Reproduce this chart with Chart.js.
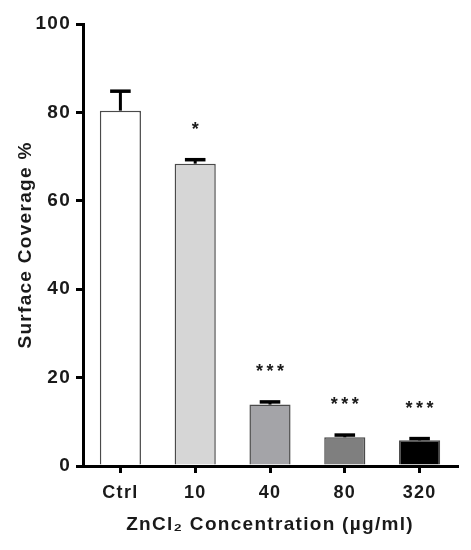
<!DOCTYPE html>
<html>
<head>
<meta charset="utf-8">
<script src="https://cdn.jsdelivr.net/npm/chart.js@4/dist/chart.umd.min.js"></script>
<style>
  html, body { margin: 0; padding: 0; background: #fff; }
  #wrap { width: 471px; height: 550px; position: relative; }
</style>
</head>
<body>
<div id="wrap"><canvas id="grafico"></canvas></div>
<script>
// dados
const categorias = ['Ctrl', '10', '40', '80', '320'];
const medias     = [80.4, 68.4, 13.9, 6.5, 5.8];
const erros      = [4.4, 0.9, 0.6, 0.5, 0.4];
const signif     = ['', '*', '***', '***', '***'];
const yTicks     = [0, 20, 40, 60, 80, 100];

const corBarras  = ['#ffffff', '#d6d6d6', '#a4a4a8', '#7f7f7f', '#000000'];
const FONTE      = '"Liberation Sans", Arial, sans-serif';
const TEXTO      = '#1a1a1a';
const ESPACO     = '1.3px';   // texto do original é um pouco espaçado

// espaçamento entre letras (o canvas perde o estado ao redimensionar)
const espacamento = {
    id: 'espacamento',
    beforeLayout(chart) { chart.ctx.letterSpacing = ESPACO; },
    beforeDraw(chart)   { chart.ctx.letterSpacing = ESPACO; }
};

// barras de erro (só para cima) + asteriscos
const errorBars = {
    id: 'errorBars',
    afterDatasetsDraw(chart) {
        const { ctx, scales: { y } } = chart;
        const meta = chart.getDatasetMeta(0);
        ctx.save();
        meta.data.forEach((bar, i) => {
            const x     = bar.x;
            const yTop  = y.getPixelForValue(medias[i] + erros[i]);
            const yBase = y.getPixelForValue(medias[i]);
            const half  = bar.width / 4;
            ctx.strokeStyle = '#000';
            ctx.lineWidth = 3;
            ctx.beginPath();
            ctx.moveTo(x, yBase);
            ctx.lineTo(x, yTop);
            ctx.stroke();
            ctx.lineWidth = 3.5;
            ctx.beginPath();
            ctx.moveTo(x - half, yTop);
            ctx.lineTo(x + half, yTop);
            ctx.stroke();

            if (signif[i]) {
                ctx.fillStyle = TEXTO;
                ctx.font = 'bold 18px ' + FONTE;
                ctx.letterSpacing = '3.5px';
                ctx.textAlign = 'center';
                ctx.textBaseline = 'alphabetic';
                // o espaçamento final desloca o texto; compensa metade
                ctx.fillText(signif[i], x + 1.75, yTop - 35 + 10.3);
            }
        });
        ctx.restore();
    }
};

new Chart(document.getElementById('grafico'), {
    type: 'bar',
    data: {
        labels: categorias,
        datasets: [{
            data: medias,
            backgroundColor: corBarras,
            borderColor: '#4a4a4a',
            borderWidth: 1.5,
            borderSkipped: 'bottom',
            barPercentage: 0.55,
            categoryPercentage: 1.0
        }]
    },
    options: {
        responsive: true,
        maintainAspectRatio: false,
        animation: false,
        layout: { padding: { top: 24, right: 14, left: 0, bottom: 0 } },
        plugins: {
            legend: { display: false },
            tooltip: { enabled: false }
        },
        scales: {
            x: {
                afterFit: s => { s.height = 84; },
                grid: {
                    offset: false,
                    drawOnChartArea: false,
                    color: '#000',
                    lineWidth: 3,
                    tickLength: 7
                },
                border: { color: '#000', width: 3 },
                ticks: {
                    color: TEXTO,
                    padding: 9,
                    font: { family: FONTE, size: 18, weight: 'bold' }
                },
                title: {
                    display: true,
                    text: 'ZnCl\u2082 Concentration (\u00b5g/ml)',
                    color: TEXTO,
                    padding: { top: 4, bottom: 14 },
                    font: { family: FONTE, size: 19, weight: 'bold' }
                }
            },
            y: {
                min: 0,
                max: 100,
                afterFit: s => { s.width = 83; },
                afterBuildTicks: s => { s.ticks = yTicks.map(v => ({ value: v })); },
                grid: {
                    drawOnChartArea: false,
                    color: '#000',
                    lineWidth: 3,
                    tickLength: 7
                },
                border: { color: '#000', width: 3 },
                ticks: {
                    color: TEXTO,
                    padding: 5,
                    font: { family: FONTE, size: 19, weight: 'bold' }
                },
                title: {
                    display: true,
                    text: 'Surface Coverage %',
                    color: TEXTO,
                    padding: { top: 14, bottom: 4 },
                    font: { family: FONTE, size: 19, weight: 'bold' }
                }
            }
        }
    },
    plugins: [espacamento, errorBars]
});
</script>
</body>
</html>
